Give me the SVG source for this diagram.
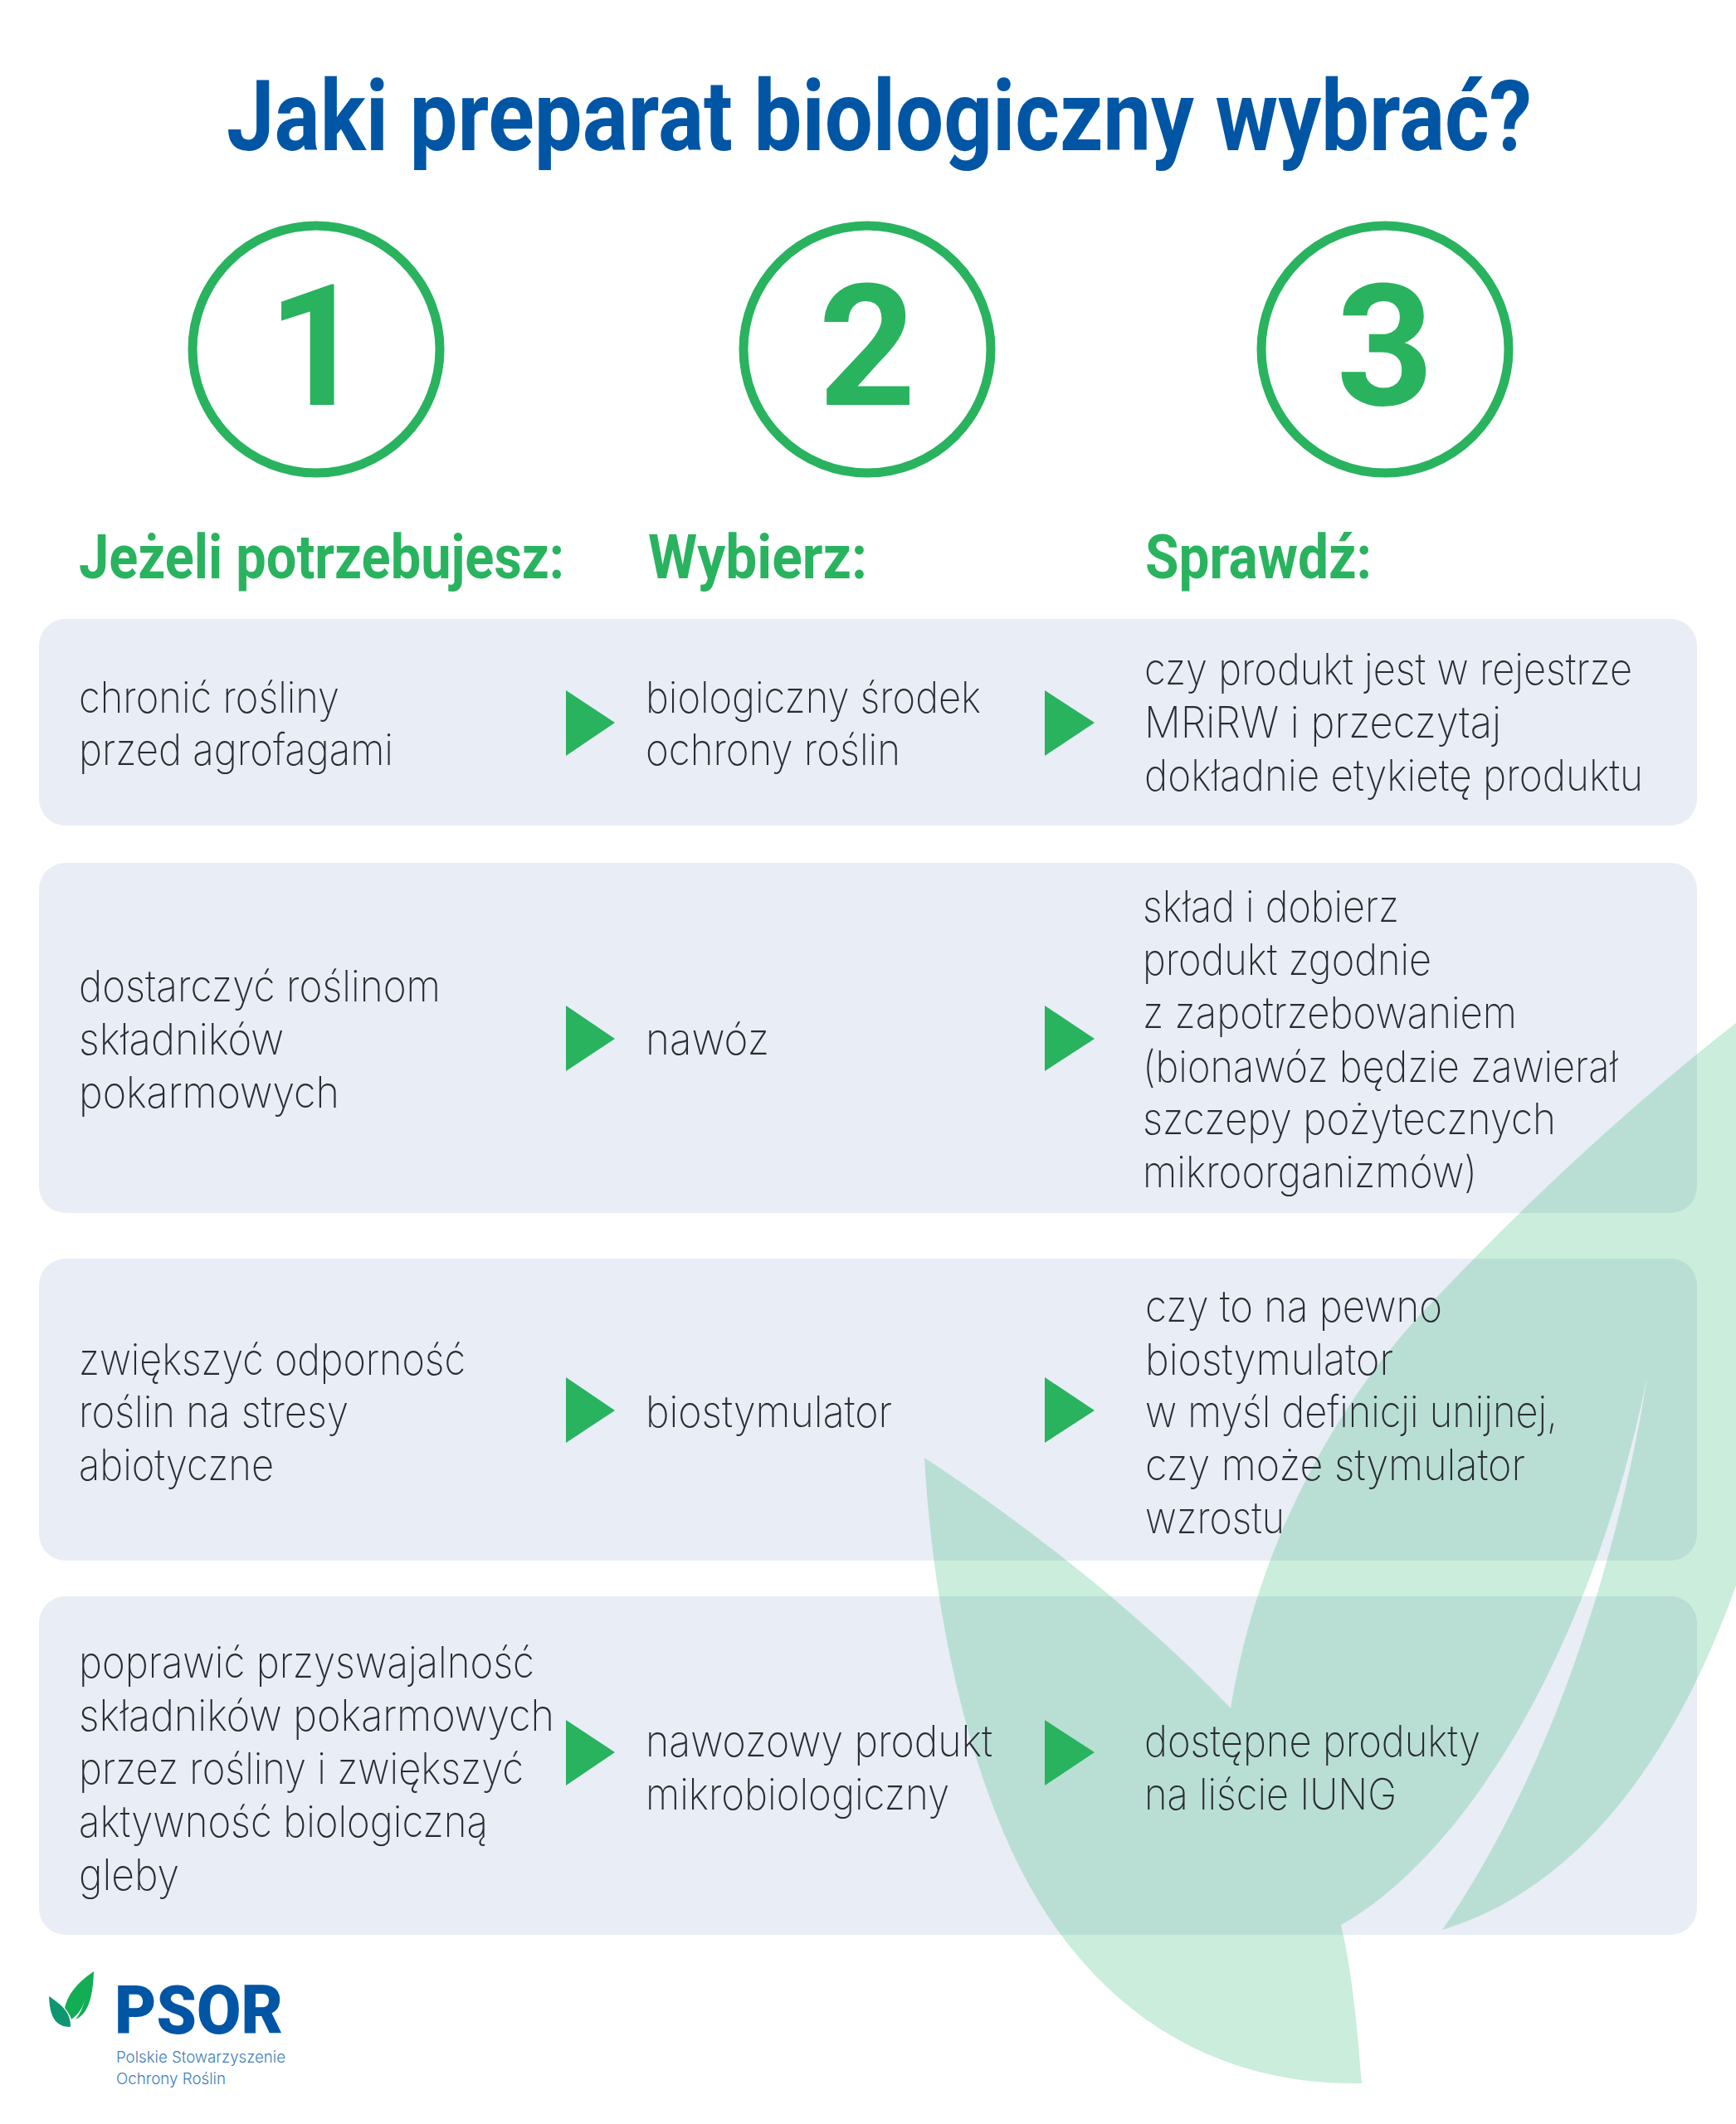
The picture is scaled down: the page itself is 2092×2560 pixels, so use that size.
<svg xmlns="http://www.w3.org/2000/svg" width="2092" height="2560" viewBox="0 0 2092 2560">
<style>
.panel{fill:#e9edf6}
.leaf{fill:#2bb673;fill-opacity:.25}
.b{font-family:"Inter","Liberation Sans",sans-serif;font-weight:200;font-size:52px;fill:#2a2c33}
.h{font-family:"Roboto","Liberation Sans",sans-serif;font-weight:700;font-size:74px;fill:#29b35f}
.ring{fill:none;stroke:#29b35f;stroke-width:11}
.n{font-family:"Roboto","Liberation Sans",sans-serif;font-weight:700;font-size:205px;fill:#29b35f;text-anchor:middle}
.arrow{fill:#29b35f}
</style>
<rect width="2092" height="2560" fill="#fff"/>
<g id="panels">
<rect class="panel" x="47" y="746" width="1998" height="249" rx="32"/>
<rect class="panel" x="47" y="1040" width="1998" height="422" rx="32"/>
<rect class="panel" x="47" y="1517" width="1998" height="364" rx="32"/>
<rect class="panel" x="47" y="1924" width="1998" height="408" rx="32"/>
</g>
<g id="background-leaves">
<path class="leaf" d="M2092 1233C1960 1336 1830 1458 1714 1582C1590 1715 1510 1890 1483 2059C1380 1950 1240 1840 1114 1757C1122 1900 1150 2070 1210 2210C1290 2400 1440 2515 1641 2511C1635 2440 1630 2380 1616 2320C1760 2240 1915 2000 1985 1660C1955 1850 1880 2120 1738 2326C1890 2280 2010 2140 2092 1911Z"/>
</g>
<text id="title" x="273" y="181" font-family="Roboto,'Liberation Sans',sans-serif" font-weight="700" font-size="118" fill="#0056a4" textLength="1573" lengthAdjust="spacingAndGlyphs">Jaki preparat biologiczny wybrać?</text>
<g id="step-1"><circle class="ring" cx="381" cy="421" r="149"/><text class="n" x="381" y="488">1</text></g>
<g id="step-2"><circle class="ring" cx="1045" cy="421" r="149"/><text class="n" x="1045" y="488">2</text></g>
<g id="step-3"><circle class="ring" cx="1669" cy="421" r="149"/><text class="n" x="1669" y="488">3</text></g>
<g id="headers">
<text class="h" x="95" y="697" textLength="585" lengthAdjust="spacingAndGlyphs">Jeżeli potrzebujesz:</text>
<text class="h" x="781" y="697" textLength="264" lengthAdjust="spacingAndGlyphs">Wybierz:</text>
<text class="h" x="1380" y="697" textLength="273" lengthAdjust="spacingAndGlyphs">Sprawdź:</text>
</g>
<g id="row-1">
<text class="b" x="95" y="859" textLength="314" lengthAdjust="spacingAndGlyphs">chronić rośliny</text>
<text class="b" x="95" y="922" textLength="379" lengthAdjust="spacingAndGlyphs">przed agrofagami</text>
<text class="b" x="778" y="859" textLength="404" lengthAdjust="spacingAndGlyphs">biologiczny środek</text>
<text class="b" x="778" y="922" textLength="307" lengthAdjust="spacingAndGlyphs">ochrony roślin</text>
<text class="b" x="1379" y="825" textLength="588" lengthAdjust="spacingAndGlyphs">czy produkt jest w rejestrze</text>
<text class="b" x="1379" y="889" textLength="430" lengthAdjust="spacingAndGlyphs">MRiRW i przeczytaj</text>
<text class="b" x="1379" y="953" textLength="601" lengthAdjust="spacingAndGlyphs">dokładnie etykietę produktu</text>
</g>
<g id="row-2">
<text class="b" x="95" y="1207" textLength="436" lengthAdjust="spacingAndGlyphs">dostarczyć roślinom</text>
<text class="b" x="95" y="1271" textLength="247" lengthAdjust="spacingAndGlyphs">składników</text>
<text class="b" x="95" y="1335" textLength="314" lengthAdjust="spacingAndGlyphs">pokarmowych</text>
<text class="b" x="778" y="1271" textLength="149" lengthAdjust="spacingAndGlyphs">nawóz</text>
<text class="b" x="1377" y="1111" textLength="309" lengthAdjust="spacingAndGlyphs">skład i dobierz</text>
<text class="b" x="1377" y="1175" textLength="348" lengthAdjust="spacingAndGlyphs">produkt zgodnie</text>
<text class="b" x="1377" y="1239" textLength="451" lengthAdjust="spacingAndGlyphs">z zapotrzebowaniem</text>
<text class="b" x="1377" y="1304" textLength="573" lengthAdjust="spacingAndGlyphs">(bionawóz będzie zawierał</text>
<text class="b" x="1377" y="1367" textLength="498" lengthAdjust="spacingAndGlyphs">szczepy pożytecznych</text>
<text class="b" x="1377" y="1431" textLength="403" lengthAdjust="spacingAndGlyphs">mikroorganizmów)</text>
</g>
<g id="row-3">
<text class="b" x="95" y="1657" textLength="466" lengthAdjust="spacingAndGlyphs">zwiększyć odporność</text>
<text class="b" x="95" y="1720" textLength="325" lengthAdjust="spacingAndGlyphs">roślin na stresy</text>
<text class="b" x="95" y="1784" textLength="235" lengthAdjust="spacingAndGlyphs">abiotyczne</text>
<text class="b" x="778" y="1720" textLength="297" lengthAdjust="spacingAndGlyphs">biostymulator</text>
<text class="b" x="1380" y="1593" textLength="358" lengthAdjust="spacingAndGlyphs">czy to na pewno</text>
<text class="b" x="1380" y="1657" textLength="299" lengthAdjust="spacingAndGlyphs">biostymulator</text>
<text class="b" x="1380" y="1720" textLength="497" lengthAdjust="spacingAndGlyphs">w myśl definicji unijnej,</text>
<text class="b" x="1380" y="1784" textLength="458" lengthAdjust="spacingAndGlyphs">czy może stymulator</text>
<text class="b" x="1380" y="1848" textLength="168" lengthAdjust="spacingAndGlyphs">wzrostu</text>
</g>
<g id="row-4">
<text class="b" x="95" y="2022" textLength="549" lengthAdjust="spacingAndGlyphs">poprawić przyswajalność</text>
<text class="b" x="95" y="2086" textLength="573" lengthAdjust="spacingAndGlyphs">składników pokarmowych</text>
<text class="b" x="95" y="2150" textLength="536" lengthAdjust="spacingAndGlyphs">przez rośliny i zwiększyć</text>
<text class="b" x="95" y="2214" textLength="493" lengthAdjust="spacingAndGlyphs">aktywność biologiczną</text>
<text class="b" x="95" y="2278" textLength="121" lengthAdjust="spacingAndGlyphs">gleby</text>
<text class="b" x="778" y="2117" textLength="418" lengthAdjust="spacingAndGlyphs">nawozowy produkt</text>
<text class="b" x="778" y="2181" textLength="366" lengthAdjust="spacingAndGlyphs">mikrobiologiczny</text>
<text class="b" x="1379" y="2117" textLength="405" lengthAdjust="spacingAndGlyphs">dostępne produkty</text>
<text class="b" x="1379" y="2181" textLength="304" lengthAdjust="spacingAndGlyphs">na liście IUNG</text>
</g>
<g id="connectors">
<polygon class="arrow" points="682,832 741,871 682,911"/><polygon class="arrow" points="1259,832 1319,871 1259,911"/>
<polygon class="arrow" points="682,1212 741,1252 682,1291"/><polygon class="arrow" points="1259,1212 1319,1252 1259,1291"/>
<polygon class="arrow" points="682,1660 741,1700 682,1739"/><polygon class="arrow" points="1259,1660 1319,1700 1259,1739"/>
<polygon class="arrow" points="682,2073 741,2112 682,2152"/><polygon class="arrow" points="1259,2073 1319,2112 1259,2152"/>
</g>
<g id="logo">
<path fill="#0e9670" d="M59 2406C60 2430 66 2443 85 2443C85 2425 75 2417 59 2406Z"/>
<path fill="#12ad55" d="M113 2376C90 2392 82 2405 78 2420C82 2425 85 2430 86 2434C98 2425 102 2415 103 2403C102 2415 98 2425 91 2434C105 2428 112 2410 113 2376Z"/>
<text x="138" y="2451" font-family="Roboto,'Liberation Sans',sans-serif" font-weight="900" font-size="81" fill="#0056a4" textLength="203" lengthAdjust="spacingAndGlyphs">PSOR</text>
<text x="140" y="2486" font-family="Inter,'Liberation Sans',sans-serif" font-weight="300" font-size="19" fill="#3f7fb8" textLength="204" lengthAdjust="spacingAndGlyphs">Polskie Stowarzyszenie</text>
<text x="140" y="2512" font-family="Inter,'Liberation Sans',sans-serif" font-weight="300" font-size="19" fill="#3f7fb8" textLength="132" lengthAdjust="spacingAndGlyphs">Ochrony Roślin</text>
</g>
</svg>
